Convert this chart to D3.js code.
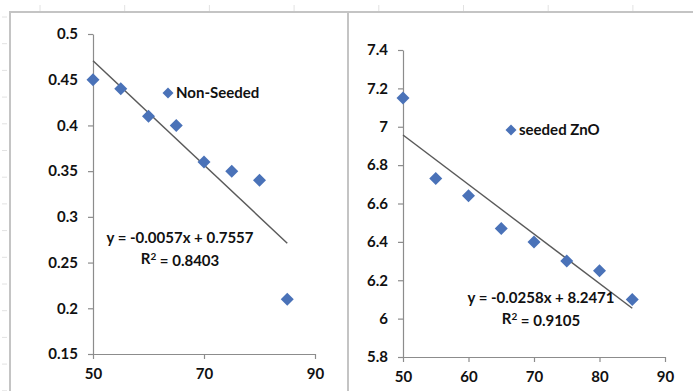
<!DOCTYPE html>
<html>
<head>
<meta charset="utf-8">
<script src="https://cdn.jsdelivr.net/npm/d3@7"></script>
<style>
  body { margin: 0; background: #fff; }
  svg { display: block; }
  text { font-family: Lato, "Open Sans", sans-serif; font-weight: bold; fill: #111; }
</style>
</head>
<body>
<svg id="chart"></svg>
<script>
// data
const xValues = [50, 55, 60, 65, 70, 75, 80, 85];
const nonSeeded = [0.45, 0.44, 0.41, 0.40, 0.36, 0.35, 0.34, 0.21];
const seededZnO = [7.15, 6.73, 6.64, 6.47, 6.40, 6.30, 6.25, 6.10];
const leftTicksX = [50, 70, 90];
const leftTicksY = [0.15, 0.2, 0.25, 0.3, 0.35, 0.4, 0.45, 0.5];
const rightTicksX = [50, 60, 70, 80, 90];
const rightTicksY = [5.8, 6, 6.2, 6.4, 6.6, 6.8, 7, 7.2, 7.4];
const leftFit = { slope: -0.0057, intercept: 0.7557, r2: '0.8403', from: 50, to: 85 };
const rightFit = { slope: -0.0258, intercept: 8.2471, r2: '0.9105', from: 50, to: 85 };

const W = 693, H = 391;
const svg = d3.select('#chart').attr('width', W).attr('height', H);

// sheet frame (grey borders + faint ruler marks)
const frame = svg.append('g').attr('stroke', '#c4c4c4');
frame.append('line').attr('x1', 9).attr('x2', W).attr('y1', 12).attr('y2', 12).attr('stroke-width', 2);
frame.append('line').attr('x1', 10).attr('x2', 10).attr('y1', 12).attr('y2', H).attr('stroke-width', 2);
frame.append('line').attr('x1', 348).attr('x2', 348).attr('y1', 12).attr('y2', H).attr('stroke-width', 2);
frame.selectAll('.rt').data(d3.range(40, W, 84.7)).join('line')
  .attr('x1', d => d).attr('x2', d => d).attr('y1', 5).attr('y2', 11)
  .attr('stroke', '#e2e2e2');
frame.selectAll('.lt').data(d3.range(17, H, 26.7)).join('line')
  .attr('x1', 2).attr('x2', 7).attr('y1', d => d).attr('y2', d => d)
  .attr('stroke', '#e2e2e2');

function panel(cfg) {
  const x = d3.scaleLinear().domain(cfg.xDomain).range(cfg.xRange);
  const y = d3.scaleLinear().domain(cfg.yDomain).range(cfg.yRange);
  const g = svg.append('g');

  const xAxis = d3.axisBottom(x).tickValues(cfg.xTicks).tickSize(5).tickSizeOuter(0).tickPadding(9);
  const yAxis = d3.axisLeft(y).tickValues(cfg.yTicks).tickSize(5).tickSizeOuter(0).tickPadding(10)
    .tickFormat(d3.format('~g'));

  const gx = g.append('g').attr('transform', `translate(0,${cfg.yRange[0]})`).call(xAxis);
  const gy = g.append('g').attr('transform', `translate(${cfg.xRange[0]},0)`).call(yAxis);
  [gx, gy].forEach(a => {
    a.selectAll('path, line').attr('stroke', '#8c8c8c').attr('stroke-width', 1.2);
    a.selectAll('text').style('font-size', '15px').attr('fill', '#111');
  });

  // trendline
  g.append('line')
    .attr('x1', x(cfg.fit.from)).attr('y1', y(cfg.fit.slope * cfg.fit.from + cfg.fit.intercept))
    .attr('x2', x(cfg.fit.to)).attr('y2', y(cfg.fit.slope * cfg.fit.to + cfg.fit.intercept))
    .attr('stroke', '#5a5a5a').attr('stroke-width', 1.5);

  const diamond = 'M0,-6.5L6.5,0L0,6.5L-6.5,0Z';
  g.selectAll('.pt').data(cfg.ys).join('path')
    .attr('d', diamond)
    .attr('transform', (d, i) => `translate(${x(xValues[i])},${y(d)})`)
    .attr('fill', '#4a72b8');

  // legend
  g.append('path').attr('d', 'M0,-5.5L5.5,0L0,5.5L-5.5,0Z')
    .attr('transform', `translate(${cfg.legend[0]},${cfg.legend[1]})`).attr('fill', '#4a72b8');
  g.append('text').attr('x', cfg.legend[0] + 8).attr('y', cfg.legend[1]).attr('dy', '0.35em')
    .style('font-size', '15px').text(cfg.name);

  // equation
  const sign = cfg.fit.intercept >= 0 ? ' + ' : ' - ';
  g.append('text').attr('x', cfg.eq[0]).attr('y', cfg.eq[1]).attr('text-anchor', 'middle')
    .attr('dy', '0.35em').style('font-size', '15px')
    .text(`y = ${cfg.fit.slope}x${sign}${Math.abs(cfg.fit.intercept)}`);
  const r = g.append('text').attr('x', cfg.eq[0]).attr('y', cfg.eq[1] + 21).attr('text-anchor', 'middle')
    .attr('dy', '0.35em').style('font-size', '15px');
  r.append('tspan').text('R');
  r.append('tspan').attr('dy', '-0.4em').style('font-size', '10px').text('2');
  r.append('tspan').attr('dy', '0.4em').text(` = ${cfg.fit.r2}`);
}

panel({
  xDomain: [50, 90], xRange: [93, 315],
  yDomain: [0.15, 0.5], yRange: [354, 34],
  xTicks: leftTicksX, yTicks: leftTicksY,
  ys: nonSeeded, fit: leftFit, name: 'Non-Seeded',
  legend: [168, 93], eq: [180, 238]
});

panel({
  xDomain: [50, 90], xRange: [403, 665],
  yDomain: [5.8, 7.4], yRange: [357, 50],
  xTicks: rightTicksX, yTicks: rightTicksY,
  ys: seededZnO, fit: rightFit, name: 'seeded ZnO',
  legend: [511, 130], eq: [541, 298]
});
</script>
</body>
</html>
